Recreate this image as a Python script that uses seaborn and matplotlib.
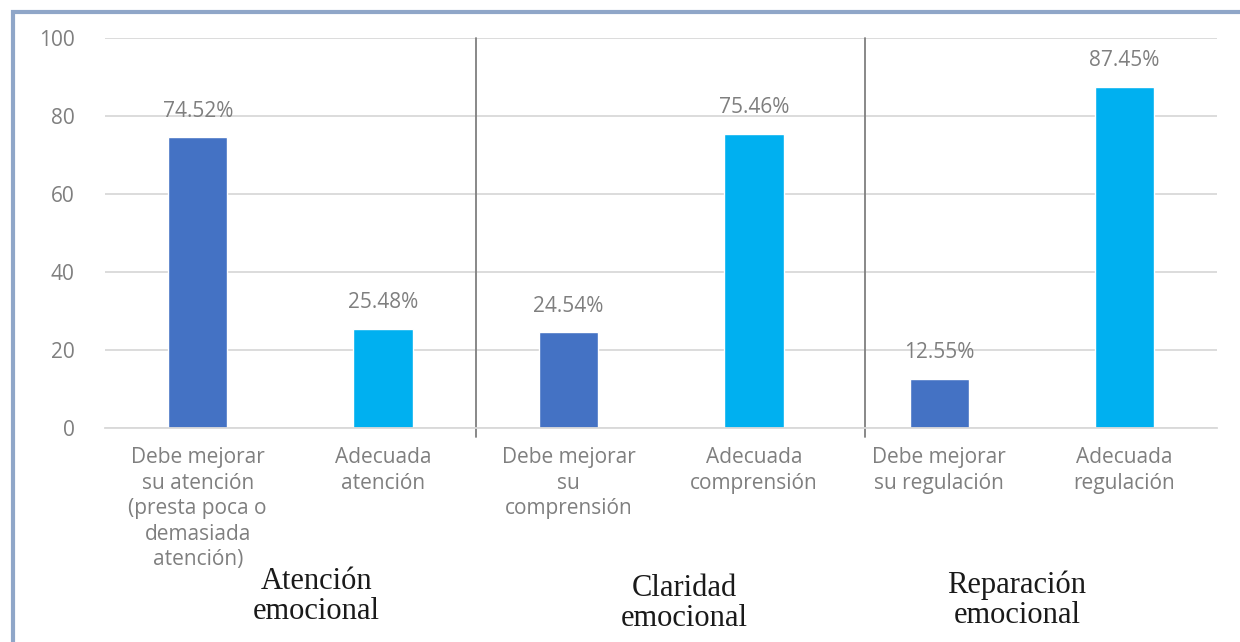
import numpy as np
import pandas as pd
import matplotlib
matplotlib.use("Agg")
import matplotlib.pyplot as plt
import seaborn as sns
from matplotlib.patches import Rectangle

# data
categorias = ["Debe mejorar\nsu atención\n(presta poca o\ndemasiada\natención)",
              "Adecuada\natención",
              "Debe mejorar\nsu\ncomprensión",
              "Adecuada\ncomprensión",
              "Debe mejorar\nsu regulación",
              "Adecuada\nregulación"]
valores = [74.52, 25.48, 24.54, 75.46, 12.55, 87.45]
tipo = ["mejorar", "adecuada", "mejorar", "adecuada", "mejorar", "adecuada"]
dimensiones = ["Atención\nemocional", "Claridad\nemocional", "Reparación\nemocional"]
y_ticks = [0, 20, 40, 60, 80, 100]

df = pd.DataFrame({"categoria": categorias, "valor": valores, "tipo": tipo})

sns.set_theme(style="white")
plt.rcParams['font.family'] = ['Open Sans', 'DejaVu Sans']

fig = plt.figure(figsize=(12.4, 6.42), dpi=100)
ax = fig.add_axes([0.0847, 0.3333, 0.897, 0.6075])

colores = {"mejorar": "#4472C4", "adecuada": "#00B0F0"}
sns.barplot(data=df, x="categoria", y="valor", hue="tipo", palette=colores,
            dodge=False, width=0.32, legend=False, ax=ax, saturation=1)

ax.set_ylim(0, 100)
ax.set_xlim(-0.5, 5.5)
ax.set_yticks(y_ticks)
ax.set_yticklabels([str(t) for t in y_ticks])
ax.yaxis.grid(True, color="#d9d9d9", linewidth=1.3)
ax.set_axisbelow(True)
for s in ["top", "right", "left"]:
    ax.spines[s].set_visible(False)
ax.spines["bottom"].set_color("#d9d9d9")
ax.spines["bottom"].set_linewidth(1.3)
ax.tick_params(axis="y", length=0, pad=22, labelsize=15, labelcolor="#7f7f7f")
ax.tick_params(axis="x", length=0, pad=14, labelsize=15, labelcolor="#7f7f7f")
for lab in ax.get_xticklabels():
    lab.set_linespacing(1.28)
ax.set_xlabel("")
ax.set_ylabel("")

# value labels
for i, v in enumerate(valores):
    ax.text(i, v + 4, f"{v:.2f}%", ha="center", va="bottom", fontsize=15, color="#7f7f7f")

# separators between groups
for xs in [1.5, 3.6]:
    ax.plot([xs, xs], [100, -2.3], color="#7f7f7f", linewidth=1.3, clip_on=False)

# group titles
grupo_x = [0.255, 0.552, 0.82]
grupo_y = [0.071, 0.060, 0.065]
for gx, gy, d in zip(grupo_x, grupo_y, dimensiones):
    fig.text(gx, gy, d, ha="center", va="center", fontsize=22,
             family="Liberation Serif", color="#1a1a1a", linespacing=1.05)

# outer frame
fig.patches.append(Rectangle((0.0105, -0.05), 1.2, 1.032, transform=fig.transFigure,
                             fill=False, edgecolor="#8fa6c8", linewidth=3))

fig.savefig("out.png", dpi=100)
